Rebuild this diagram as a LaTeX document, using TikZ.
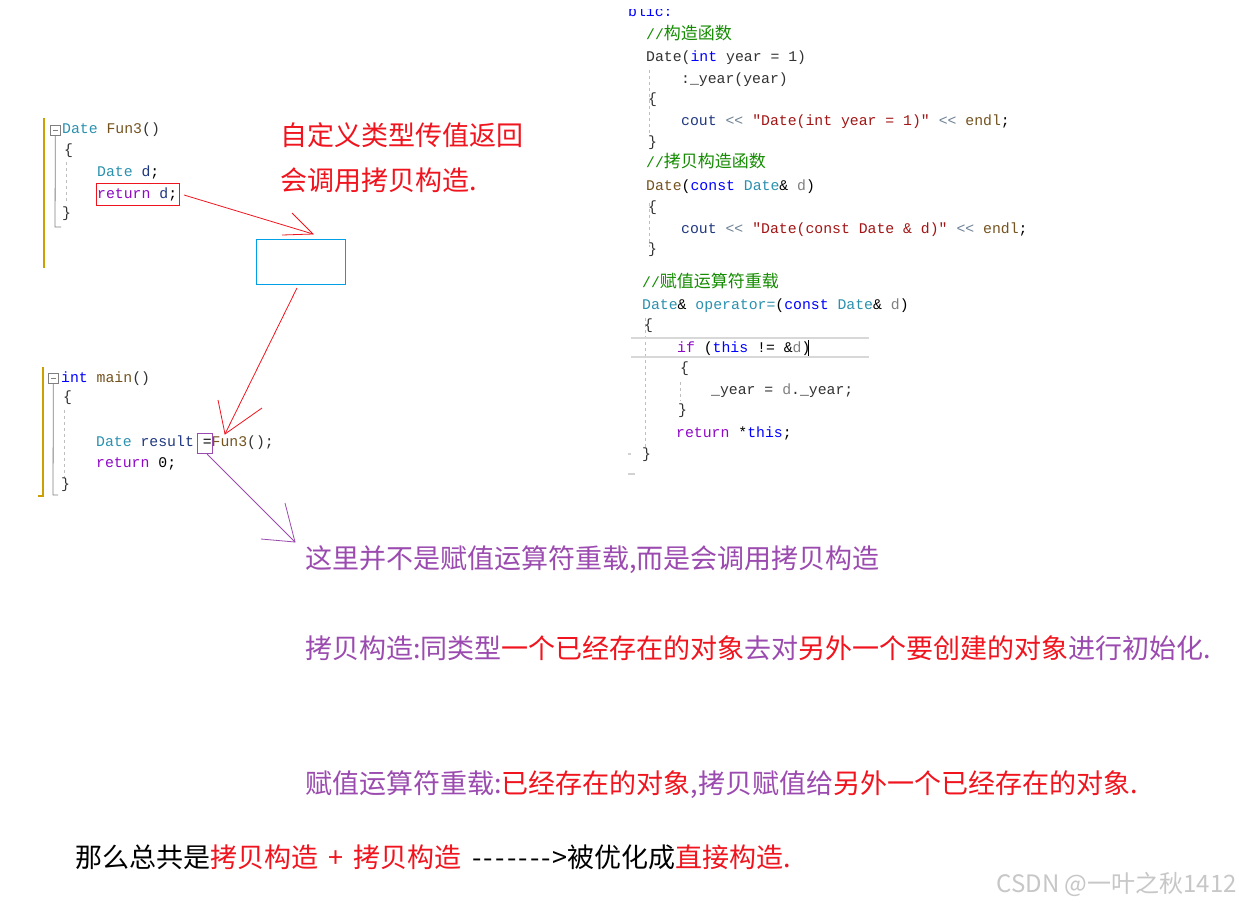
\documentclass[tikz,border=0pt]{standalone}
\usepackage{fontspec}
\newfontfamily\cjk{Noto Sans CJK SC}
\newfontfamily\mono{Liberation Mono}
\definecolor{kw}{RGB}{0,0,255}
\definecolor{ct}{RGB}{143,8,196}
\definecolor{ty}{RGB}{43,145,175}
\definecolor{fn}{RGB}{116,83,31}
\definecolor{vr}{RGB}{31,55,127}
\definecolor{pm}{RGB}{128,128,128}
\definecolor{st}{RGB}{163,21,21}
\definecolor{cm}{RGB}{20,140,0}
\definecolor{op}{RGB}{110,130,150}
\definecolor{pn}{RGB}{50,50,50}
\definecolor{ared}{RGB}{240,20,30}
\definecolor{apur}{RGB}{155,75,175}
\definecolor{gold}{RGB}{204,160,0}
\definecolor{guide}{RGB}{190,190,190}
\definecolor{bluebox}{RGB}{0,160,230}
\newcommand\cc[2]{\textcolor{#1}{#2}}
\newcommand\ck{\cjk\fontsize{17}{17}\selectfont}
\newcommand\lsh{\mbox{<}\mbox{<}}
\newcommand\hy{\makebox[11.6pt]{-}}
\begin{document}
\begin{tikzpicture}[x=1pt,y=-1pt,
  code/.style={anchor=west,inner sep=0pt,font=\mono\fontsize{14.8}{16}\selectfont,text height=11pt,text depth=3pt},
  note/.style={anchor=west,inner sep=0pt,font=\cjk\fontsize{27}{30}\selectfont,text height=24pt,text depth=4pt},
  redline/.style={draw=ared,line width=0.8pt},
  purline/.style={draw=apur,line width=0.8pt},
  guideline/.style={draw=guide,line width=0.8pt,dash pattern=on 3pt off 3pt},
  foldbox/.style={draw=pm,line width=0.7pt,minimum width=10pt,minimum height=10pt,inner sep=0pt,anchor=north west}]
\useasboundingbox (0,0) rectangle (1239,903);
\fill[white] (0,0) rectangle (1239,903);

% ---------- left block 1: Fun3 ----------
\draw[gold,line width=2pt] (44,118) -- (44,268);
\node[foldbox] (fb1) at (50,125) {};
\draw[pm,line width=0.8pt] (fb1.west) ++(2.5pt,0) -- ++(5pt,0);
\draw[pm,line width=0.8pt] (fb1.south) -- (55,227) -- (61,227);
\draw[guideline] (66,162) -- (66,202);
\node[code] (f1) at (62,129) {\cc{ty}{Date} \cc{fn}{Fun3}\cc{pn}{()}};
\node[code] (f2) at (64,150) {\cc{pn}{\{}};
\node[code] (f3) at (97,172) {\cc{ty}{Date} \cc{vr}{d};};
\node[code] (f4) at (97,194) {\cc{ct}{return} \cc{vr}{d};};
\node[code] (f5) at (62,213) {\cc{pn}{\}}};
\node[draw=ared,line width=0.8pt,minimum width=83pt,minimum height=22pt,inner sep=0pt,anchor=north west] (retbox) at (96,183) {};

% ---------- blue box ----------
\node[draw=bluebox,line width=0.9pt,minimum width=89pt,minimum height=45pt,inner sep=0pt,anchor=north west] (bbox) at (256,239) {};

% ---------- left block 2: main ----------
\draw[gold,line width=2pt] (43,367) -- (43,496) -- (38,496);
\node[foldbox] (fb2) at (48,373) {};
\draw[pm,line width=0.8pt] (fb2.west) ++(2.5pt,0) -- ++(5pt,0);
\draw[pm,line width=0.8pt] (fb2.south) -- (53,495) -- (58,495);
\draw[guideline] (64,410) -- (64,478);
\node[code] (m1) at (61,378) {\cc{kw}{int} \cc{fn}{main}\cc{pn}{()}};
\node[code] (m2) at (63,397) {\cc{pn}{\{}};
\node[code] (m3) at (96,442) {\cc{ty}{Date} \cc{vr}{result} =\cc{fn}{Fun3}\cc{pn}{();}};
\node[code] (m4) at (96,463) {\cc{ct}{return} 0;};
\node[code] (m5) at (61,484) {\cc{pn}{\}}};
\node[draw=apur,line width=0.8pt,minimum width=15pt,minimum height=20pt,inner sep=0pt,anchor=north west] (eqbox) at (197,433) {};

% ---------- right block ----------
\begin{scope}
\clip (600,9) rectangle (720,30);
\node[code] (r0) at (628,12) {\cc{kw}{blic:}};
\end{scope}
\draw[guideline] (649,70) -- (649,134);
\draw[guideline] (649,203) -- (649,247);
\draw[guideline] (645,318) -- (645,447);
\draw[guideline] (680,382) -- (680,401);
\node[code] (r1) at (646,35) {\cc{cm}{//{\ck 构造函数}}};
\node[code] (r2) at (646,57) {\cc{pn}{Date(}\cc{kw}{int} \cc{pn}{year = 1)}};
\node[code] (r3) at (681,79) {\cc{pn}{:\_year(year)}};
\node[code] (r4) at (648,99) {\cc{pn}{\{}};
\node[code] (r5) at (681,121) {\cc{vr}{cout} \cc{op}{\lsh} \cc{st}{"Date(int year = 1)"} \cc{op}{\lsh} \cc{fn}{endl};};
\node[code] (r6) at (648,142) {\cc{pn}{\}}};
\node[code] (r7) at (646,163) {\cc{cm}{//{\ck 拷贝构造函数}}};
\node[code] (r8) at (646,186) {\cc{fn}{Date}(\cc{kw}{const} \cc{ty}{Date}\&{} \cc{pm}{d})};
\node[code] (r9) at (648,207) {\cc{pn}{\{}};
\node[code] (r10) at (681,229) {\cc{vr}{cout} \cc{op}{\lsh} \cc{st}{"Date(const Date \& d)"} \cc{op}{\lsh} \cc{fn}{endl};};
\node[code] (r11) at (648,249) {\cc{pn}{\}}};
\node[code] (r12) at (642,283) {\cc{cm}{//{\ck 赋值运算符重载}}};
\node[code] (r13) at (642,305) {\cc{ty}{Date}\&{} \cc{ty}{operator=}(\cc{kw}{const} \cc{ty}{Date}\&{} \cc{pm}{d})};
\node[code] (r14) at (644,325) {\cc{pn}{\{}};
\draw[guide!60,line width=2pt] (631,338) -- (869,338);
\draw[guide!60,line width=2pt] (631,357) -- (869,357);
\node[code] (r15) at (677,348) {\cc{ct}{if} (\cc{kw}{this} != \&\cc{pm}{d})};
\draw[black,line width=1pt] (808,340) -- (808,356);
\node[code] (r16) at (680,368) {\cc{pn}{\{}};
\node[code] (r17) at (711,390) {\cc{pn}{\_year =} \cc{pm}{d}\cc{pn}{.\_year;}};
\node[code] (r18) at (678,410) {\cc{pn}{\}}};
\node[code] (r19) at (676,433) {\cc{ct}{return} *\cc{kw}{this};};
\node[code] (r20) at (642,454) {\cc{pn}{\}}};
\draw[guide!70,line width=1.5pt] (628,454) -- (631,454);
\draw[guide!70,line width=1.5pt] (628,474) -- (635,474);

% ---------- arrows ----------
\coordinate (a1s) at (184,195);
\coordinate (a1t) at (313,234);
\coordinate (a1b1) at (292,213);
\coordinate (a1b2) at (282,235);
\draw[redline] (a1s) -- (a1t);
\draw[redline] (a1b1) -- (a1t) -- (a1b2);
\coordinate (a2s) at (297,288);
\coordinate (a2t) at (225,434);
\coordinate (a2b1) at (218,400);
\coordinate (a2b2) at (262,408);
\draw[redline] (a2s) -- (a2t);
\draw[redline] (a2b1) -- (a2t) -- (a2b2);
\coordinate (a3s) at (207,454);
\coordinate (a3t) at (295,542);
\coordinate (a3b1) at (285,503);
\coordinate (a3b2) at (261,539);
\draw[purline] (a3s) -- (a3t);
\draw[purline] (a3b1) -- (a3t) -- (a3b2);

% ---------- annotations ----------
\node[note,text=ared] (t1) at (280,135) {自定义类型传值返回};
\node[note,text=ared] (t2) at (280,180) {会调用拷贝构造.};
\node[note,text=apur] (n1) at (305,558) {这里并不是赋值运算符重载,而是会调用拷贝构造};
\node[note] (n2) at (305,648) {\cc{apur}{拷贝构造:同类型}\cc{ared}{一个已经存在的对象}\cc{apur}{去对}\cc{ared}{另外一个要创建的对象}\cc{apur}{进行初始化.}};
\node[note] (n3) at (305,783) {\cc{apur}{赋值运算符重载:}\cc{ared}{已经存在的对象}\cc{apur}{,拷贝赋值给}\cc{ared}{另外一个已经存在的对象.}};
\node[note] (n4) at (75,857) {\cc{black}{那么总共是}\cc{ared}{拷贝构造\hspace{10pt}+\hspace{10pt}拷贝构造}\hspace{10pt}\cc{black}{\hy\hy\hy\hy\hy\hy\hy>被优化成}\cc{ared}{直接构造.}};
\node[anchor=east,inner sep=0pt,font=\cjk\fontsize{24}{26}\selectfont,text=black!22] (wm) at (1237,884) {CSDN @一叶之秋1412};
\end{tikzpicture}
\end{document}
